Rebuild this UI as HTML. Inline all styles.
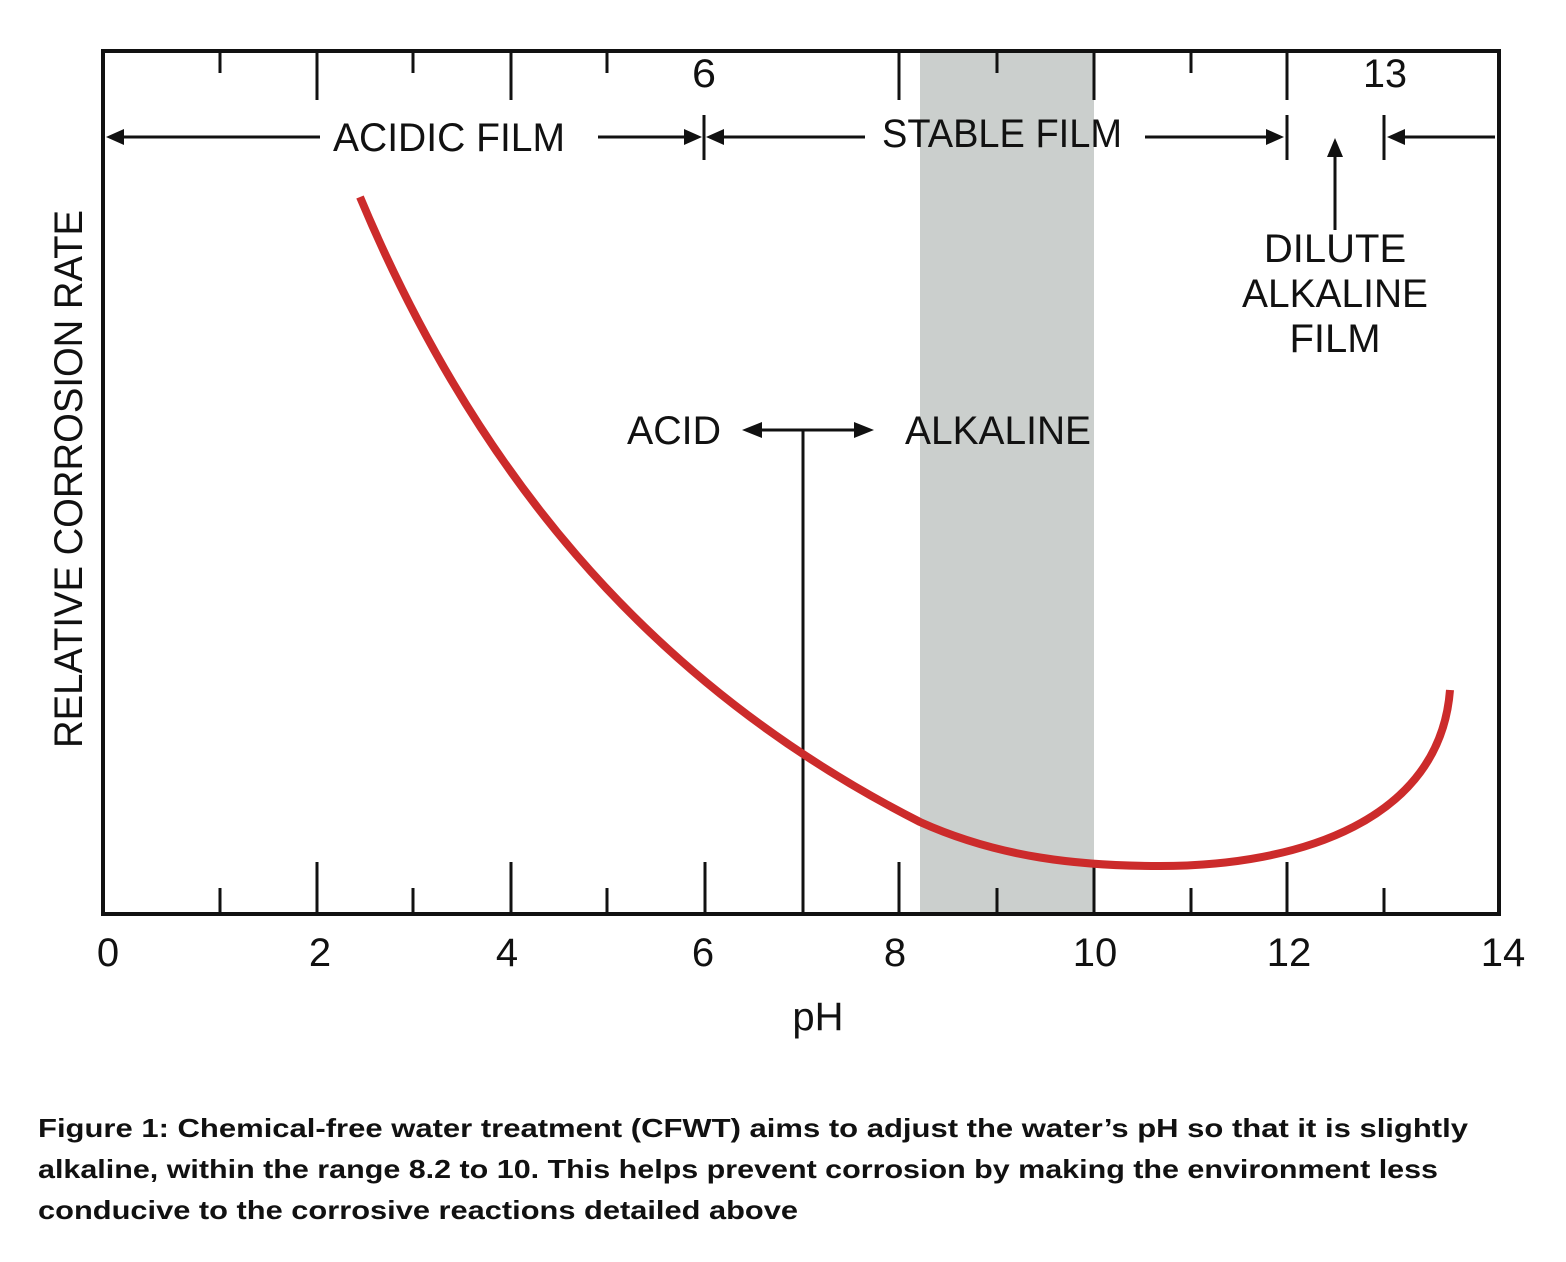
<!DOCTYPE html>
<html><head><meta charset="utf-8"><style>
html,body{margin:0;padding:0;background:#fff;}
svg{display:block;}
</style></head><body>
<svg width="1566" height="1262" viewBox="0 0 1566 1262" xmlns="http://www.w3.org/2000/svg" font-family="Liberation Sans, sans-serif">
<rect width="1566" height="1262" fill="#fff"/>
<rect x="920" y="52" width="174" height="861" fill="#cbcfcd"/>
<g stroke="#111" stroke-width="3" fill="none">
<rect x="103" y="51" width="1396" height="863" stroke-width="4"/>
<path d="M220,51V73 M317,51V100 M413,51V73 M511,51V100 M607,51V73 M899,51V100 M997,51V73 M1094,51V100 M1191,51V73 M1287,51V100"/>
<path d="M220,914V888 M317,914V862 M413,914V888 M511,914V862 M607,914V888 M705,914V862 M899,914V862 M997,914V888 M1094,914V862 M1191,914V888 M1287,914V862 M1384,914V888"/>
<path d="M803,914V430"/>
<path d="M112,137H320 M598,137H690 M720,137H865 M1145,137H1272 M1397,137H1495"/>
<path d="M704,115V160 M1287,115V160 M1384,115V160"/>
<path d="M1335,230V152"/>
<path d="M760,430H860"/>
</g>
<g fill="#111">
<polygon points="106,137 124,129 124,145"/>
<polygon points="702,137 684,129 684,145"/>
<polygon points="706,137 724,129 724,145"/>
<polygon points="1284,137 1266,129 1266,145"/>
<polygon points="1387,137 1405,129 1405,145"/>
<polygon points="1335,138 1327,157 1343,157"/>
<polygon points="742,430 762,422 762,438"/>
<polygon points="874,430 854,422 854,438"/>
</g>
<path d="M360,197 C470,460 640,680 920,822 C1000,858 1080,866 1160,866 C1300,866 1440,820 1450,690" stroke="#cc2b2b" stroke-width="8" fill="none"/>
<g font-size="40" fill="#111">
<text x="333" y="151" textLength="232" lengthAdjust="spacingAndGlyphs">ACIDIC FILM</text>
<text x="882" y="147" textLength="240" lengthAdjust="spacingAndGlyphs">STABLE FILM</text>
<text x="692" y="87" textLength="24" lengthAdjust="spacingAndGlyphs">6</text>
<text x="1363" y="87" textLength="44" lengthAdjust="spacingAndGlyphs">13</text>
<text x="1335" y="262" text-anchor="middle">DILUTE</text>
<text x="1335" y="307" text-anchor="middle" textLength="186" lengthAdjust="spacingAndGlyphs">ALKALINE</text>
<text x="1335" y="352" text-anchor="middle">FILM</text>
<text x="627" y="444" textLength="94" lengthAdjust="spacingAndGlyphs">ACID</text>
<text x="905" y="444" textLength="186" lengthAdjust="spacingAndGlyphs">ALKALINE</text>
<text transform="translate(82,748) rotate(-90)" textLength="538" lengthAdjust="spacingAndGlyphs">RELATIVE CORROSION RATE</text>
<g text-anchor="middle">
<text x="108" y="966">0</text><text x="320" y="966">2</text><text x="507" y="966">4</text>
<text x="703" y="966">6</text><text x="895" y="966">8</text><text x="1095" y="966">10</text>
<text x="1289" y="966">12</text><text x="1503" y="966">14</text>
<text x="818" y="1030">pH</text>
</g>
</g>
<g font-size="26" fill="#111" font-weight="bold">
<text x="38" y="1137" textLength="1430" lengthAdjust="spacingAndGlyphs">Figure 1: Chemical-free water treatment (CFWT) aims to adjust the water’s pH so that it is slightly</text>
<text x="38" y="1178" textLength="1400" lengthAdjust="spacingAndGlyphs">alkaline, within the range 8.2 to 10. This helps prevent corrosion by making the environment less</text>
<text x="38" y="1219" textLength="760" lengthAdjust="spacingAndGlyphs">conducive to the corrosive reactions detailed above</text>
</g>
</svg>
</body></html>
